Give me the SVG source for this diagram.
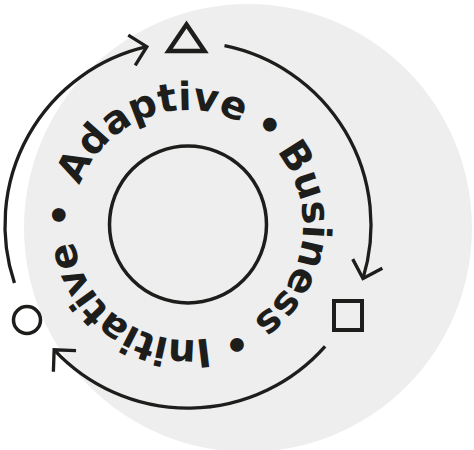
<svg xmlns="http://www.w3.org/2000/svg" xmlns:xlink="http://www.w3.org/1999/xlink" width="474" height="450" viewBox="0 0 474 450">
  <style>
    .ink { fill: none; stroke: #1d1d1b; }
    .conn { fill: none; stroke: #1d1d1b; stroke-width: 3.3; marker-end: url(#chev); }
    .lbl { font-family: "DejaVu Sans", "Liberation Sans", sans-serif; font-weight: 700; font-size: 39px; fill: #1d1d1b; }
  </style>
  <defs>
    <path id="ring" d="M 73 225 A 115 115 0 1 1 303 225 A 115 115 0 1 1 73 225"/>
    <marker id="chev" markerUnits="userSpaceOnUse" viewBox="-20 -20 40 40" markerWidth="40" markerHeight="40" refX="0" refY="0" orient="auto">
      <path d="M -15.5 -15.5 L 0 0 L -15.5 15.5" fill="none" stroke="#1d1d1b" stroke-width="3.3" stroke-linejoin="miter"/>
    </marker>
  </defs>

  <g id="background">
    <circle cx="248" cy="228" r="224" fill="#eeeeee"/>
  </g>

  <g id="core">
    <circle class="ink" cx="188" cy="224.5" r="78.5" stroke-width="3.5"/>
  </g>

  <g id="label-ring" class="lbl">
    <text><textPath xlink:href="#ring" href="#ring" startOffset="40" textLength="196" lengthAdjust="spacing">Adaptive</textPath></text>
    <text text-anchor="middle"><textPath xlink:href="#ring" href="#ring" startOffset="259">•</textPath></text>
    <text><textPath xlink:href="#ring" href="#ring" startOffset="281" textLength="192" lengthAdjust="spacing">Business</textPath></text>
    <text text-anchor="middle"><textPath xlink:href="#ring" href="#ring" startOffset="497">•</textPath></text>
    <text><textPath xlink:href="#ring" href="#ring" startOffset="520" textLength="186" lengthAdjust="spacing">Initiative</textPath></text>
    <text text-anchor="middle"><textPath xlink:href="#ring" href="#ring" startOffset="9">•</textPath></text>
  </g>

  <g id="node-triangle">
    <polygon class="ink" points="186.5,24.5 168.5,51 204.5,51" stroke-width="4.5" stroke-linejoin="miter"/>
  </g>
  <g id="node-square">
    <rect class="ink" x="334" y="301" width="28" height="29" stroke-width="4"/>
  </g>
  <g id="node-circle">
    <circle class="ink" cx="27" cy="320" r="13.5" stroke-width="3.5"/>
  </g>

  <g id="connectors">
    <path class="conn" d="M 14.46 283.07 A 183 183 0 0 1 146.83 46.69"/>
    <path class="conn" d="M 224.5 45.68 A 183 183 0 0 1 363.0 278.5"/>
    <path class="conn" d="M 325.1 346.3 A 183 183 0 0 1 54.15 349.8"/>
  </g>
</svg>
